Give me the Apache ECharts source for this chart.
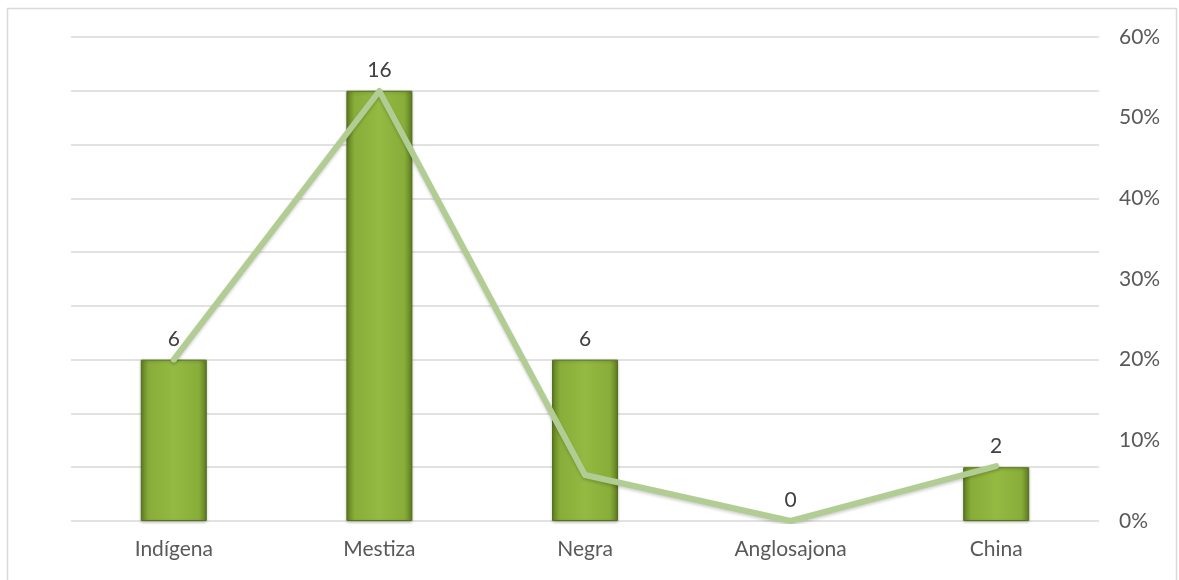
<!DOCTYPE html>
<html>
<head>
<meta charset="utf-8">
<script src="https://cdn.jsdelivr.net/npm/echarts@6/dist/echarts.min.js"></script>
<style>
  html, body { margin: 0; padding: 0; background: #ffffff; }
  #chart { width: 1179px; height: 580px; }
</style>
</head>
<body>
<div id="chart"></div>
<script>
// Population by ethnic group: counts (bars) and share (line)
const categories = ['Indígena', 'Mestiza', 'Negra', 'Anglosajona', 'China'];
const counts = [6, 16, 6, 0, 2];
const shares = [0.20, 0.533, 0.057, 0, 0.068];
const shareTicks = [0, 0.1, 0.2, 0.3, 0.4, 0.5, 0.6];

const FONT = 'Lato, "Open Sans", sans-serif';
const TEXT = '#595959';
const SIZE = 21;

const chart = echarts.init(document.getElementById('chart'), null, { renderer: 'canvas' });

const barFill = new echarts.graphic.LinearGradient(0, 0, 1, 0, [
  { offset: 0, color: '#5f7d22' },
  { offset: 0.12, color: '#88ad39' },
  { offset: 0.5, color: '#94ba42' },
  { offset: 0.88, color: '#88ad39' },
  { offset: 1, color: '#5f7d22' }
]);

// zero-height bars get no outline
const barData = counts.map(v => ({
  value: v,
  itemStyle: v === 0 ? { borderWidth: 0, shadowBlur: 0, opacity: 0 } : {}
}));

chart.setOption({
  animation: false,
  backgroundColor: '#ffffff',
  graphic: [{
    type: 'rect',
    shape: { x: 7.5, y: 8.5, width: 1169, height: 620 },
    style: { fill: 'none', stroke: '#d9d9d9', lineWidth: 1.5 },
    silent: true,
    z: -1
  }],
  grid: { left: 71, right: 80, top: 37, bottom: 59 },
  xAxis: {
    type: 'category',
    data: categories,
    axisLine: { show: false },
    axisTick: { show: false },
    axisLabel: { color: TEXT, fontFamily: FONT, fontSize: SIZE, margin: 18 }
  },
  yAxis: [{
    type: 'value',
    min: 0, max: 18, interval: 2,
    axisLabel: { show: false },
    axisLine: { show: false },
    axisTick: { show: false },
    splitLine: { lineStyle: { color: '#d9d9d9', width: 1.5 } }
  }, {
    type: 'value',
    position: 'right',
    min: shareTicks[0], max: shareTicks[shareTicks.length - 1], interval: 0.1,
    axisLine: { show: false },
    axisTick: { show: false },
    splitLine: { show: false },
    axisLabel: {
      color: TEXT, fontFamily: FONT, fontSize: SIZE, margin: 20,
      formatter: v => Math.round(v * 100) + '%'
    }
  }],
  series: [{
    type: 'bar',
    yAxisIndex: 0,
    data: barData,
    barWidth: 66,
    itemStyle: {
      color: barFill,
      borderColor: '#55711d',
      borderWidth: 1,
      shadowColor: 'rgba(0,0,0,0.25)',
      shadowBlur: 3,
      shadowOffsetY: 1
    },
    label: {
      show: true, position: 'top', distance: 10,
      color: '#404040', fontFamily: FONT, fontSize: SIZE,
      opacity: 1
    }
  }, {
    type: 'line',
    yAxisIndex: 1,
    data: shares,
    symbol: 'none',
    lineStyle: {
      color: '#b2cd93', width: 6, cap: 'round', join: 'round',
      shadowColor: 'rgba(0,0,0,0.18)', shadowBlur: 3, shadowOffsetY: 2
    },
    z: 3
  }]
});
</script>
</body>
</html>
